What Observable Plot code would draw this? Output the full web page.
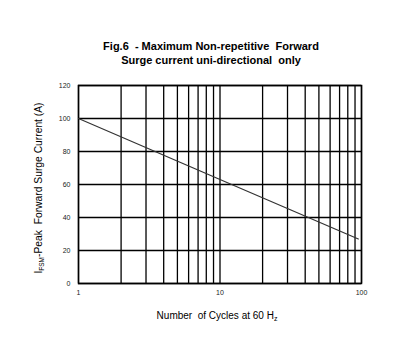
<!DOCTYPE html>
<html><head><meta charset="utf-8">
<script src="https://cdn.jsdelivr.net/npm/d3@7"></script>
<script src="https://cdn.jsdelivr.net/npm/@observablehq/plot@0.6"></script>
<style>
body{margin:0;background:#fff;width:408px;height:354px;overflow:hidden;font-family:"Liberation Sans",Arial,sans-serif;}
#title{height:70px;box-sizing:border-box;padding-top:39px;text-align:center;font-weight:bold;font-size:11px;line-height:14px;color:#000;padding-left:14px;}
svg{display:block;}
</style></head>
<body>
<div id="title">Fig.6&nbsp; - Maximum Non-repetitive&nbsp; Forward<br>Surge current uni-directional&nbsp; only</div>
<div id="chart"></div>
<script>
const cycles = [1, 10, 95];
const current = [100, 63, 27];
const yTicks = [0, 20, 40, 60, 80, 100, 120];
const xTicks = [1, 10, 100];
const xGrid = [1, 2, 3, 4, 5, 6, 7, 8, 9, 10, 20, 30, 40, 50, 60, 70, 80, 90, 100];

const data = cycles.map((c, i) => ({c, v: current[i]}));

const plot = Plot.plot({
  width: 408, height: 284,
  marginLeft: 78, marginRight: 47, marginTop: 15, marginBottom: 71,
  style: {fontFamily: '"Liberation Sans", Arial, sans-serif', fontSize: "7px", color: "#222", background: "#fff"},
  x: {type: "log", domain: [1, 100], axis: null},
  y: {domain: [0, 120], axis: null},
  marks: [
    Plot.ruleX(xGrid, {stroke: "#000", strokeWidth: 1.3}),
    Plot.ruleY(yTicks, {stroke: "#000", strokeWidth: 1.3}),
    Plot.frame({stroke: "#000", strokeWidth: 1.5}),
    Plot.line(data, {x: "c", y: "v", stroke: "#333", strokeWidth: 1.2}),
    Plot.axisX(xTicks, {tickSize: 0, tickPadding: 7, tickFormat: d => String(d), label: null}),
    Plot.axisY(yTicks, {tickSize: 0, tickPadding: 8, label: null})
  ]
});
document.getElementById("chart").appendChild(plot);

const svg = d3.select(plot);
const xl = svg.append("text")
  .attr("x", 217).attr("y", 249)
  .attr("text-anchor", "middle")
  .attr("font-size", 10).attr("fill", "#000");
xl.append("tspan").text("Number  of Cycles at 60 H");
xl.append("tspan").attr("font-size", 7).attr("dy", 2).text("z");

const yl = svg.append("text")
  .attr("transform", "translate(42,118) rotate(-90)")
  .attr("text-anchor", "middle")
  .attr("font-size", 10.3).attr("fill", "#000");
yl.append("tspan").text("I");
yl.append("tspan").attr("font-size", 6.5).attr("dy", 2).text("FSM");
yl.append("tspan").attr("dy", -2).text("-Peak  Forward Surge Current (A)");
</script>
</body></html>
